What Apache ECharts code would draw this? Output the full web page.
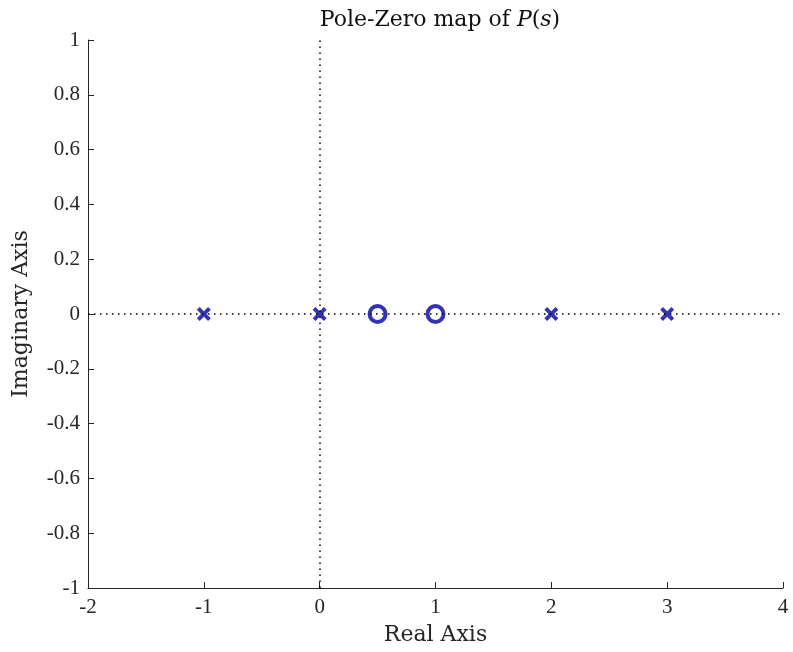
<!DOCTYPE html>
<html>
<head>
<meta charset="utf-8">
<script src="https://cdn.jsdelivr.net/npm/echarts@6/dist/echarts.min.js"></script>
<style>
  html, body { margin: 0; padding: 0; background: #fff; }
  #chart { width: 793px; height: 652px; }
</style>
</head>
<body>
<div id="chart"></div>
<script>
// poles and zeros of P(s)
const poles = [[-1, 0], [0, 0], [2, 0], [3, 0]]
const zeros = [[0.5, 0], [1, 0]]
const xTicks = [-2, -1, 0, 1, 2, 3, 4]
const yTicks = [-1, -0.8, -0.6, -0.4, -0.2, 0, 0.2, 0.4, 0.6, 0.8, 1]

const blue = '#3333b3'
const ink = '#262626'
const times = '"Liberation Serif", serif'
const cm = '"DejaVu Serif", serif'
const crossPath = 'path://M2,0L5,3L8,0L10,2L7,5L10,8L8,10L5,7L2,10L0,8L3,5L0,2Z'

const chart = echarts.init(document.getElementById('chart'))
chart.setOption({
  animation: false,
  title: {
    text: '{a|Pole-Zero map of }{b|P}{a|(}{b|s}{a|)}',
    left: 435,
    textAlign: 'center',
    top: 4,
    textStyle: {
      rich: {
        a: { fontFamily: cm, fontSize: 22, fontWeight: 'normal', color: '#111' },
        b: { fontFamily: cm, fontSize: 22, fontWeight: 'normal', fontStyle: 'italic', color: '#111' }
      }
    }
  },
  grid: { left: 88, right: 10, top: 40, bottom: 64 },
  xAxis: {
    type: 'value',
    min: -2, max: 4, interval: 1,
    name: 'Real Axis',
    nameLocation: 'middle',
    nameGap: 36,
    nameTextStyle: { fontFamily: cm, fontSize: 22, color: ink },
    axisLine: { onZero: false, lineStyle: { color: ink, width: 1 } },
    axisTick: { inside: true, length: 6, lineStyle: { color: ink } },
    axisLabel: { fontFamily: times, fontSize: 21, color: ink, margin: 9,
      formatter: v => xTicks.includes(v) ? String(v) : '' },
    splitLine: { show: false }
  },
  yAxis: {
    type: 'value',
    min: -1, max: 1, interval: 0.2,
    name: 'Imaginary Axis',
    nameLocation: 'middle',
    nameGap: 56,
    nameTextStyle: { fontFamily: cm, fontSize: 22, color: ink },
    axisLine: { show: true, onZero: false, lineStyle: { color: ink, width: 1 } },
    axisTick: { show: true, inside: true, length: 6, lineStyle: { color: ink } },
    axisLabel: { fontFamily: times, fontSize: 21, color: ink, margin: 8,
      formatter: v => {
        const t = yTicks.find(k => Math.abs(k - v) < 1e-9)
        return t === undefined ? '' : String(t)
      } },
    splitLine: { show: false }
  },
  series: [
    {
      type: 'scatter',
      name: 'zeros',
      data: zeros,
      symbol: 'circle',
      symbolSize: 16,
      itemStyle: { color: 'none', borderColor: blue, borderWidth: 4, opacity: 1 },
      markLine: {
        silent: true,
        symbol: 'none',
        label: { show: false },
        lineStyle: { color: '#000', type: [1.5, 4.5], width: 1.5 },
        data: [{ xAxis: 0 }, { yAxis: 0 }]
      },
      z: 3
    },
    {
      type: 'scatter',
      name: 'poles',
      data: poles,
      symbol: crossPath,
      symbolSize: 14,
      itemStyle: { color: blue, opacity: 1 },
      z: 3
    }
  ]
})
</script>
</body>
</html>
